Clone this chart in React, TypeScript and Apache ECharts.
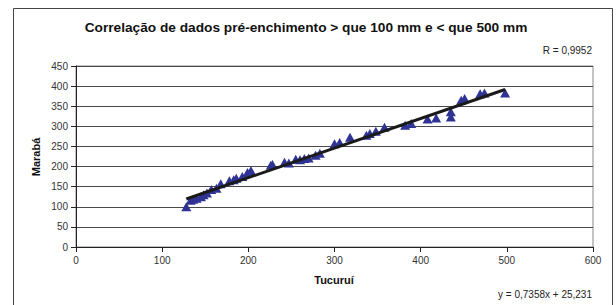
import React, { useEffect, useRef } from "react";
import * as echarts from "echarts";

const titleText = "Correlação de dados pré-enchimento > que 100 mm e < que 500 mm";
const xAxisName = "Tucuruí";
const yAxisName = "Marabá";
const rLabel = "R = 0,9952";
const eqLabel = "y = 0,7358x + 25,231";

const tucurui = [128, 133, 136, 140, 145, 148, 152, 157, 163, 168, 178, 183, 186, 193, 199, 203, 226, 228, 242, 247, 255, 260, 265, 270, 278, 283, 300, 306, 318, 337, 341, 348, 358, 382, 389, 408, 418, 435, 435, 447, 451, 469, 474, 498];
const maraba = [100, 116, 119, 121, 125, 130, 134, 143, 146, 157, 165, 167, 171, 175, 185, 190, 203, 205, 211, 209, 218, 217, 220, 221, 228, 233, 257, 260, 273, 278, 282, 288, 298, 303, 307, 318, 321, 323, 336, 365, 369, 381, 383, 383];

const trendSlope = 0.7358;
const trendIntercept = 25.231;
const trendX = [128, 498];

export default function App() {
  const ref = useRef<HTMLDivElement>(null);
  useEffect(() => {
    if (!ref.current) return;
    const chart = echarts.init(ref.current, null, { renderer: "svg" });
    const points = tucurui.map((x, i) => [x, maraba[i]]);
    const trend = trendX.map((x) => [x, trendSlope * x + trendIntercept]);
    const font = "Arial, 'Liberation Sans', sans-serif";
    chart.setOption({
      animation: false,
      backgroundColor: "#ffffff",
      textStyle: { fontFamily: font },
      grid: { left: 76, right: 23, top: 66, bottom: 58, show: true, borderColor: "#888888", borderWidth: 1, backgroundColor: "transparent" },
      graphic: [
        { type: "rect", shape: { x: 13.5, y: 8.5, width: 599, height: 310 }, style: { fill: "none", stroke: "#444", lineWidth: 1 }, silent: true },
        { type: "text", x: 306, y: 27, style: { text: titleText, font: "bold 13.7px " + font, fill: "#111", align: "center", verticalAlign: "middle" } },
        { type: "text", x: 592, y: 50, style: { text: rLabel, font: "10px " + font, fill: "#222", align: "right", verticalAlign: "middle" } },
        { type: "text", x: 592, y: 294, style: { text: eqLabel, font: "10px " + font, fill: "#222", align: "right", verticalAlign: "middle" } },
        { type: "text", x: 334, y: 280, style: { text: xAxisName, font: "bold 11px " + font, fill: "#111", align: "center", verticalAlign: "middle" } },
        { type: "text", x: 36, y: 157, rotation: Math.PI / 2, style: { text: yAxisName, font: "bold 11px " + font, fill: "#111", align: "center", verticalAlign: "middle" } },
      ],
      xAxis: {
        type: "value",
        min: 0,
        max: 600,
        interval: 100,
        axisLine: { show: true, onZero: false, lineStyle: { color: "#222", width: 1 } },
        axisTick: { show: true, length: 5, inside: false, lineStyle: { color: "#222" } },
        axisLabel: { color: "#333", fontSize: 10, margin: 8, fontFamily: font },
        splitLine: { show: false },
      },
      yAxis: {
        type: "value",
        min: 0,
        max: 450,
        interval: 50,
        axisLine: { show: true, onZero: false, lineStyle: { color: "#222", width: 1 } },
        axisTick: { show: true, length: 5, inside: false, lineStyle: { color: "#222" } },
        axisLabel: { color: "#333", fontSize: 10, margin: 8, fontFamily: font },
        splitLine: { show: true, lineStyle: { color: "#4a4a4a", width: 1 } },
      },
      series: [
        {
          type: "scatter",
          data: points,
          symbol: "triangle",
          symbolSize: [10, 9],
          itemStyle: { color: "#2f3393", opacity: 1 },
          z: 2,
        },
        {
          type: "line",
          data: trend,
          symbol: "none",
          lineStyle: { color: "#1a1a1a", width: 3 },
          z: 3,
        },
      ],
    });
    return () => chart.dispose();
  }, []);
  return <div ref={ref} style={{ position: "fixed", left: 0, top: 0, width: 616, height: 305 }} />;
}
